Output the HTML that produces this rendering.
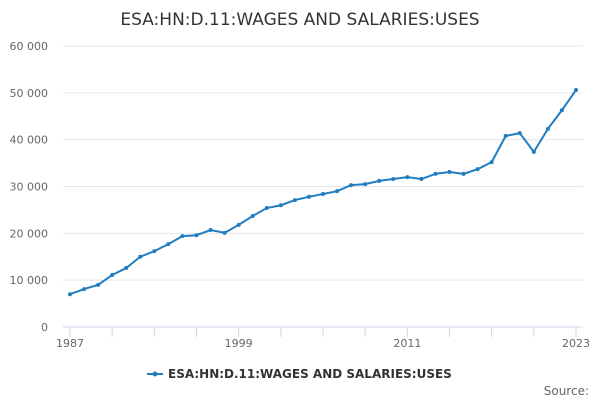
<!DOCTYPE html>
<html><head><meta charset="utf-8"><style>
body{margin:0;background:#fff;font-family:"Liberation Sans","DejaVu Sans",sans-serif}
svg text{font-family:"DejaVu Sans","Liberation Sans",sans-serif}
</style></head><body>
<svg id="c" width="600" height="400" xmlns="http://www.w3.org/2000/svg">
<text x="300" y="25" text-anchor="middle" font-size="17" fill="#333">ESA:HN:D.11:WAGES AND SALARIES:USES</text>
<g id="grid"></g><g id="xax"></g><g id="series"></g>
<g>
<line x1="147" y1="374" x2="163" y2="374" stroke="#1f7dc0" stroke-width="2"/>
<circle cx="155" cy="374" r="2.5" fill="#1f7dc0"/>
<text x="168" y="378" font-size="12" font-weight="bold" fill="#333">ESA:HN:D.11:WAGES AND SALARIES:USES</text>
</g>
<text x="589" y="395" text-anchor="end" font-size="12" fill="#666">Source:</text>
</svg>
<script>
const years=[];for(let y=1987;y<=2023;y++)years.push(y);
const values=[7000,8100,9000,11100,12600,15000,16200,17700,19400,19600,20700,20100,21800,23700,25400,26000,27100,27800,28400,29000,30300,30500,31200,31600,32000,31600,32700,33100,32700,33700,35200,40800,41400,37400,42300,46300,50600];
const yTicks=[0,10000,20000,30000,40000,50000,60000];
const yTickLabels=["0","10 000","20 000","30 000","40 000","50 000","60 000"];
const xLabels=[1987,1999,2011,2023];
const NS="http://www.w3.org/2000/svg";
const X=y=>70+(y-1987)*(506/36), Y=v=>327-v*(281/60000);
function mk(t,a,p){const e=document.createElementNS(NS,t);for(const k in a)e.setAttribute(k,a[k]);p.appendChild(e);return e;}
const g=document.getElementById('grid');
yTicks.forEach((v,i)=>{
 const l=mk('line',{x1:63,x2:583,y1:Y(v),y2:Y(v),stroke:v===0?'#ccd6eb':'#e6e6e6'},g);
 
 
 const t=mk('text',{x:48,y:Y(v)+4,'text-anchor':'end','font-size':11,fill:'#666'},g);t.textContent=yTickLabels[i];
 
 
});
const xa=document.getElementById('xax');
for(let y=1987;y<=2023;y+=3){const l=mk('line',{x1:X(y),x2:X(y),y1:327,y2:337,stroke:'#ccd6eb'},xa);
 
 }
xLabels.forEach(y=>{const t=mk('text',{x:X(y),y:347,'text-anchor':'middle','font-size':11,fill:'#666'},xa);t.textContent=y;
 
 });
const s=document.getElementById('series');
const p=mk('path',{d:values.map((v,i)=>(i?'L':'M')+X(years[i])+','+Y(v)).join(''),fill:'none',stroke:'#1f7dc0','stroke-width':2},s);


values.forEach((v,i)=>{const c=mk('circle',{cx:X(years[i]),cy:Y(v),r:2,fill:'#1f7dc0'},s);
 
 });
</script>
</body></html>
